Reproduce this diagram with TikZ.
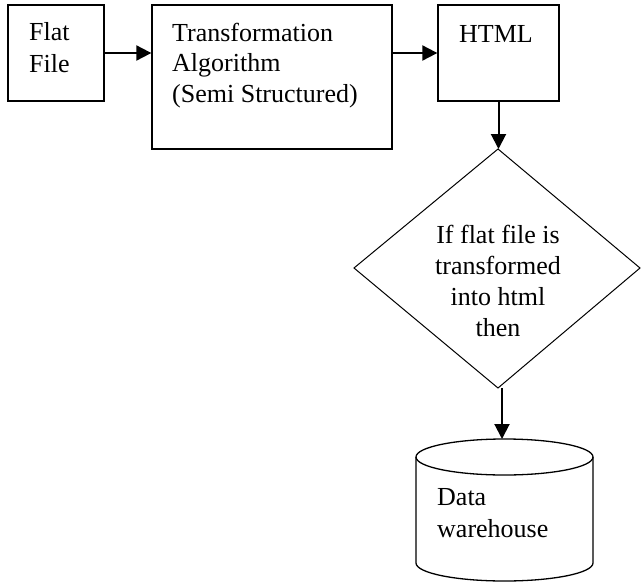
\documentclass[tikz,border=0pt]{standalone}
\usepackage{fontspec}
\setmainfont{Liberation Serif}
\usetikzlibrary{arrows.meta}
\begin{document}
\begin{tikzpicture}[x=1pt,y=-1pt,
  box/.style={draw, line width=1.3pt, minimum width=#1, inner sep=0pt},
  txt/.style={font=\fontsize{26}{#1}\selectfont, align=left, inner sep=0pt, anchor=base west},
  ctxt/.style={font=\fontsize{26}{31}\selectfont, align=center, inner sep=0pt, anchor=base},
  arr/.style={line width=2pt, -{Triangle[length=15pt,width=15pt]}},
  thin/.style={line width=1pt}]
\useasboundingbox (0,0) rectangle (641,582);
% boxes
\node[box=96pt, minimum height=96pt] (flat) at (56,53) {};
\node[box=240pt, minimum height=144pt] (trans) at (272,77) {};
\node[box=121pt, minimum height=96pt] (html) at (498.5,53) {};
\node[txt=32] (flatt) at (29,72) {Flat\\File};
\node[txt=30.5] (transt) at (172,102) {Transformation\\Algorithm\\(Semi Structured)};
\node[txt=31] (htmlt) at (459,42) {HTML};
% diamond
\coordinate (dn) at (498,149);
\coordinate (de) at (640,268);
\coordinate (ds) at (498,388);
\coordinate (dw) at (354,268);
\draw[thin, line join=miter] (dn) -- (de) -- (ds) -- (dw) -- cycle;
\node[ctxt] (diat) at (498,336) {If flat file is\\transformed\\into html\\then};
% cylinder
\coordinate (cyltop) at (502,439);
\draw[line width=1.3pt] (504.5,457) ellipse [x radius=88.5, y radius=18];
\draw[line width=1.3pt] (416,457) -- (416,563) arc[start angle=180, end angle=360, x radius=88.5, y radius=-18] -- (593,457);
\node[txt=32] (cylt) at (437,537) {Data\\warehouse};
% arrows
\draw[arr] (flat.east) -- (flat.east -| trans.west);
\draw[arr] (trans.east |- html.west) -- (html.west);
\draw[arr] (html.south) -- (html.south |- dn);
\draw[arr] (ds -| cyltop) -- (cyltop);
\end{tikzpicture}
\end{document}
